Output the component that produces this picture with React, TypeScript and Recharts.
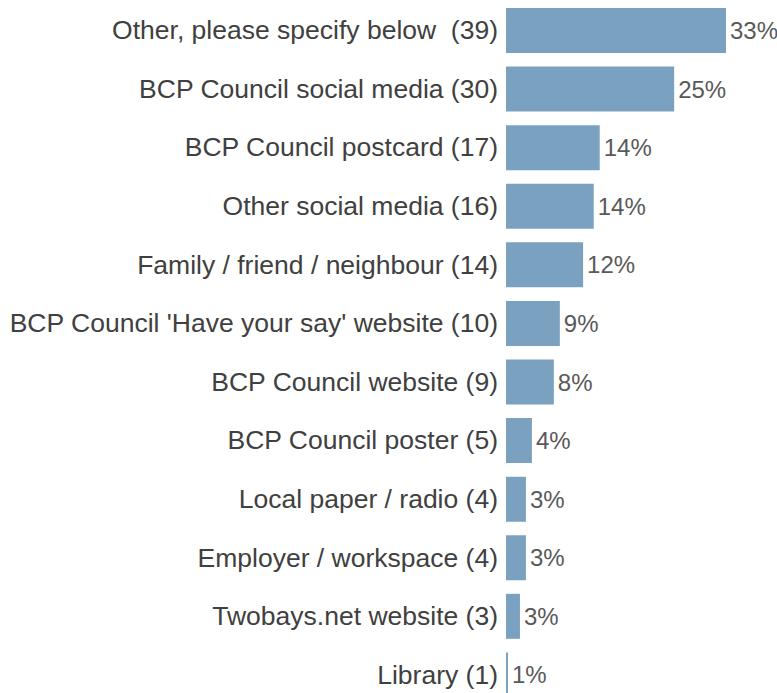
import React from 'react';
import { BarChart, Bar, XAxis, YAxis, LabelList } from 'recharts';

const categories = [
  'Other, please specify below  (39)',
  'BCP Council social media (30)',
  'BCP Council postcard (17)',
  'Other social media (16)',
  'Family / friend / neighbour (14)',
  "BCP Council 'Have your say' website (10)",
  'BCP Council website (9)',
  'BCP Council poster (5)',
  'Local paper / radio (4)',
  'Employer / workspace (4)',
  'Twobays.net website (3)',
  'Library (1)',
];
const values = [33.1, 25.3, 14.1, 13.2, 11.6, 8.1, 7.2, 3.9, 3.0, 3.0, 2.1, 0.3];
const pctLabels = ['33%', '25%', '14%', '14%', '12%', '9%', '8%', '4%', '3%', '3%', '3%', '1%'];

const data = categories.map((c, i) => ({ name: c, value: values[i], label: pctLabels[i] }));

const FONT = '"Liberation Sans", Arial, sans-serif';

const Tick = (props: any) => {
  const { x, y, payload } = props;
  return (
    <text
      x={x}
      y={y}
      textAnchor="end"
      dominantBaseline="central"
      fill="#404040"
      fontSize={26.5}
      fontFamily={FONT}
      style={{ whiteSpace: 'pre' }}
    >
      {payload.value}
    </text>
  );
};

export default function App() {
  return (
    <div style={{ position: 'absolute', left: 0, top: 0, background: '#fff' }}>
      <BarChart
        width={777}
        height={704}
        data={data}
        layout="vertical"
        margin={{ top: 1, right: 51, left: 0, bottom: 0 }}
      >
        <XAxis type="number" hide domain={[0, 33.1]} />
        <YAxis
          type="category"
          dataKey="name"
          width={506}
          tickLine={false}
          axisLine={false}
          interval={0}
          tick={<Tick />}
        />
        <Bar dataKey="value" fill="#7aa2c0" barSize={45} isAnimationActive={false}>
          <LabelList
            dataKey="label"
            position="right"
            offset={4}
            fill="#595959"
            fontSize={24}
            fontFamily={FONT}
          />
        </Bar>
      </BarChart>
    </div>
  );
}
